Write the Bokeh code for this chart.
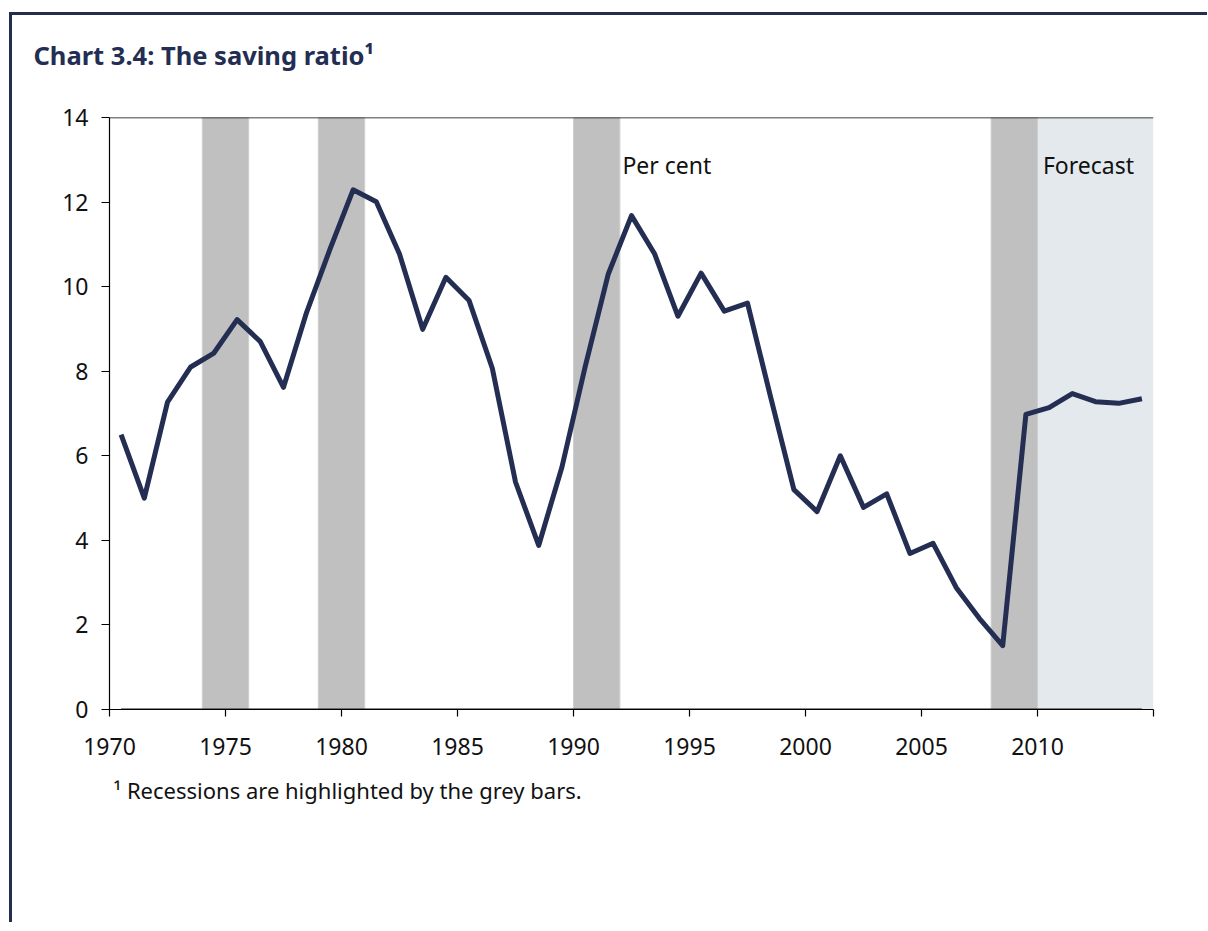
from bokeh.plotting import figure
from bokeh.layouts import column
from bokeh.models import Span, FixedTicker, ColumnDataSource, Range1d, Title, Label
from bokeh.embed import file_html
from bokeh.resources import INLINE

# ---- data ----
years = list(range(1970, 2015))
saving_ratio = [6.5, 5.0, 7.27, 8.1, 8.43, 9.22, 8.7, 7.62, 9.4, 10.88,
                12.29, 12.01, 10.77, 8.99, 10.22, 9.67, 8.07, 5.38, 3.88, 5.73,
                8.1, 10.3, 11.68, 10.77, 9.3, 10.32, 9.42, 9.61, 7.38, 5.2,
                4.68, 6.0, 4.78, 5.1, 3.69, 3.93, 2.88, 2.15, 1.51, 6.98,
                7.14, 7.47, 7.28, 7.24, 7.35]
recession_start = [1974, 1979, 1990, 2008]
recession_end = [1976, 1981, 1992, 2010]
forecast_start = [2010]
forecast_end = [2015]
x_ticks = [1970, 1975, 1980, 1985, 1990, 1995, 2000, 2005, 2010, 2015]
y_ticks = [0, 2, 4, 6, 8, 10, 12, 14]

NAVY = "#232E52"
FONT = "Noto Sans"
W = 1195

# ---- title strip ----
head = figure(width=W, height=87, output_backend="svg", toolbar_location=None,
              x_range=Range1d(0, 1), y_range=Range1d(0, 1),
              x_axis_location=None, y_axis_location=None,
              min_border_left=97, min_border_right=54, min_border_top=0,
              min_border_bottom=0)
head.outline_line_color = None
head.grid.visible = False
head.background_fill_color = "white"
head.border_fill_color = "white"
head.add_layout(Title(text="Chart 3.4: The saving ratio\u00b9", align="left", offset=-76,
                      text_font=FONT, text_font_style="bold", text_font_size="25.5px",
                      text_color=NAVY, standoff=40), "above")

# ---- main chart ----
p = figure(width=W, height=820, output_backend="svg", toolbar_location=None,
           x_range=Range1d(1970, 2015), y_range=Range1d(0, 14),
           min_border_left=97, min_border_right=54, min_border_top=15,
           min_border_bottom=213, title=None)
p.background_fill_color = "white"
p.border_fill_color = "white"
p.outline_line_color = None
p.grid.visible = False

# shaded regions
p.quad(left=forecast_start, right=forecast_end, bottom=0, top=14,
       fill_color="#E4E9ED", line_color=None)
p.quad(left=recession_start, right=recession_end, bottom=0, top=14,
       fill_color="#C0C0C0", line_color="#CFCFCF", line_width=1)

# zero line series
xmid = [y + 0.5 for y in years]
p.line(xmid, [0] * len(years), line_color="#1A1A1A", line_width=2.2)

# saving ratio
src = ColumnDataSource(dict(x=xmid, y=saving_ratio))
p.line("x", "y", source=src, line_color=NAVY, line_width=5, line_join="round")

# top frame line
p.add_layout(Span(location=14, dimension="width", line_color="black", line_width=1.3))

# axes
for ax in (p.xaxis[0], p.yaxis[0]):
    ax.axis_line_color = "black"
    ax.axis_line_width = 1.2
    ax.major_tick_line_color = "black"
    ax.major_tick_line_width = 1.2
    ax.major_tick_in = 0
    ax.minor_tick_line_color = None
    ax.major_label_text_font = FONT
    ax.major_label_text_font_size = "23px"
    ax.major_label_text_color = "#111111"
p.xaxis.ticker = FixedTicker(ticks=x_ticks)
p.xaxis.major_label_overrides = {2015: ""}
p.xaxis.major_tick_out = 7
p.xaxis.major_label_standoff = 21
p.yaxis.ticker = FixedTicker(ticks=y_ticks)
p.yaxis.major_tick_out = 8
p.yaxis.major_label_standoff = 13

# footnote
p.add_layout(Title(text="\u00b9 Recessions are highlighted by the grey bars.", align="left",
                   offset=4, text_font=FONT, text_font_style="normal",
                   text_font_size="22px", text_color="#111111", standoff=30), "below")

# in-plot labels
p.add_layout(Label(x=1992.11, y=12.87, text="Per cent", text_font=FONT,
                   text_font_size="23px", text_color="#111111", text_baseline="alphabetic"))
p.add_layout(Label(x=2010.233, y=12.87, text="Forecast", text_font=FONT,
                   text_font_size="23px", text_color="#111111", text_baseline="alphabetic"))

page = column(head, p, spacing=0)
page.styles = {"margin-top": "12px", "margin-left": "9px",
               "border-top": "3px solid #232D4E", "border-left": "3px solid #232D4E"}

open("out.html", "w").write(file_html(page, INLINE))
